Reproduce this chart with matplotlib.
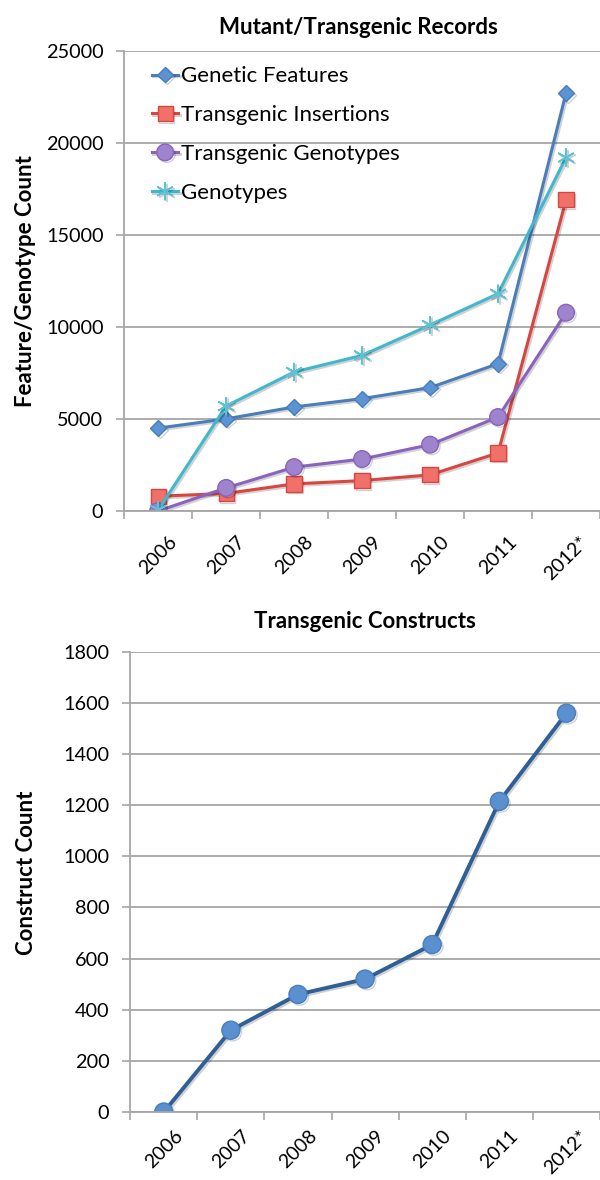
import matplotlib.pyplot as plt
import matplotlib.patheffects as pe
import numpy as np

plt.rcParams['font.family'] = ['Lato', 'DejaVu Sans']

years = ["2006", "2007", "2008", "2009", "2010", "2011", "2012*"]

# Mutant/Transgenic Records
genetic_features = [4500, 5000, 5650, 6100, 6700, 8000, 22700]
transgenic_insertions = [800, 950, 1470, 1650, 1960, 3150, 16900]
transgenic_genotypes = [0, 1250, 2380, 2820, 3600, 5100, 10770]
genotypes = [50, 5700, 7550, 8450, 10100, 11800, 19200]

# Transgenic Constructs
constructs = [0, 320, 460, 520, 655, 1215, 1560]

x = np.arange(len(years))
grid_c = "#a6a6a6"
shadow = [pe.SimpleLineShadow(offset=(1.2, -1.2), alpha=0.18), pe.Normal()]


def style_axes(ax, ymax, ystep, right, xpad):
    ax.set_xlim(-0.5, right)
    ax.set_ylim(0, ymax)
    ax.set_yticks(np.arange(0, ymax + 1, ystep))
    ax.set_xticks(x)
    ax.set_xticklabels(years, rotation=45, fontsize=14)
    ax.set_xticks(np.arange(-0.5, 7, 1), minor=True)
    ax.tick_params(axis='x', which='major', length=0, pad=xpad)
    ax.tick_params(axis='x', which='minor', length=6, color=grid_c, width=1.2)
    ax.tick_params(axis='y', length=6, color=grid_c, width=1.2, labelsize=14.3, pad=9)
    ax.grid(axis='y', color=grid_c, linewidth=1.3)
    ax.set_axisbelow(True)
    for s in ['top', 'right']:
        ax.spines[s].set_visible(False)
    for s in ['left', 'bottom']:
        ax.spines[s].set_color(grid_c)
        ax.spines[s].set_linewidth(1.3)
    for lab in ax.get_xticklabels():
        lab.set_ha('center')


fig = plt.figure(figsize=(6, 11.8), dpi=100)

# top chart
ax1 = fig.add_axes([0.207, 0.567, 0.793, 0.390])
ax1.plot(x, genetic_features, color="#4a7ebb", lw=2.2, marker="D", ms=8,
         mfc="#5b93d3", mec="#4a7ebb", label="Genetic Features", path_effects=shadow)
ax1.plot(x, transgenic_insertions, color="#d9463f", lw=2.2, marker="s", ms=11,
         mfc="#f0706a", mec="#d9463f", label="Transgenic Insertions", path_effects=shadow)
ax1.plot(x, transgenic_genotypes, color="#8a62c0", lw=2.2, marker="o", ms=12,
         mfc="#9d84cc", mec="#8a62c0", label="Transgenic Genotypes", path_effects=shadow)
ax1.plot(x, genotypes, color="#3fb7cc", lw=2.2, marker=(6, 2, 0), ms=13,
         mec="#5cc3d6", mew=1.2, label="Genotypes", path_effects=shadow)
style_axes(ax1, 25000, 5000, 6.4, 16)
fig.text(0.597, 0.977, "Mutant/Transgenic Records", fontsize=16, fontweight='bold',
         ha='center', va='center')
ax1.set_ylabel("Feature/Genotype Count", fontsize=16, fontweight='bold')
ax1.yaxis.set_label_coords(-0.185, 0.5)
ax1.legend(loc='upper left', frameon=False, fontsize=16, handlelength=1.2,
           handletextpad=0.1, labelspacing=0.85, borderaxespad=0.2,
           bbox_to_anchor=(0.03, 0.995))

# bottom chart
ax2 = fig.add_axes([0.217, 0.0576, 0.783, 0.390])
ax2.plot(x, constructs, color="#2f5f98", lw=2.8, marker="o", ms=13,
         mfc="#5a8fd0", mec="#4a7ebb", path_effects=shadow)
style_axes(ax2, 1800, 200, 6.31, 11)
fig.text(0.608, 0.473, "Transgenic Constructs", fontsize=16, fontweight='bold',
         ha='center', va='center')
ax2.set_ylabel("Construct Count", fontsize=16, fontweight='bold')
ax2.yaxis.set_label_coords(-0.198, 0.52)

fig.savefig("out.png", dpi=100)
